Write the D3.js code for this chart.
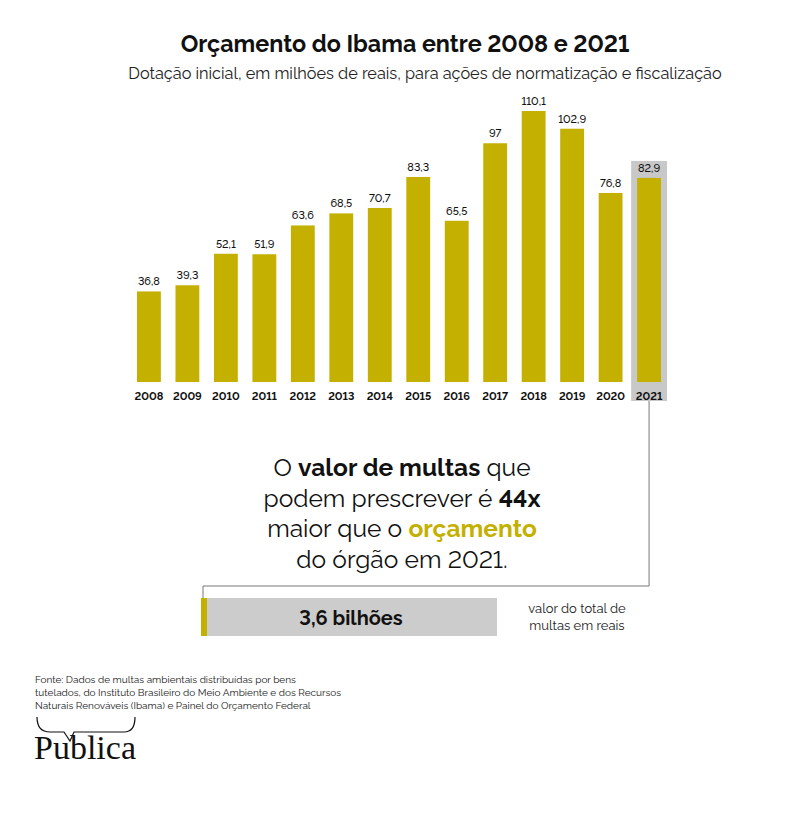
<!DOCTYPE html>
<meta charset="utf-8">
<script src="https://d3js.org/d3.v7.min.js"></script>
<style>
  body { margin: 0; background: #fff; }
  text { font-family: Raleway, "Open Sans", sans-serif; font-variant-numeric: lining-nums; font-feature-settings: "lnum" 1; }
</style>
<div id="chart"></div>
<script>
  // data
  var years = ["2008","2009","2010","2011","2012","2013","2014","2015","2016","2017","2018","2019","2020","2021"];
  var values = [36.8, 39.3, 52.1, 51.9, 63.6, 68.5, 70.7, 83.3, 65.5, 97, 110.1, 102.9, 76.8, 82.9];
  var labels = ["36,8","39,3","52,1","51,9","63,6","68,5","70,7","83,3","65,5","97","110,1","102,9","76,8","82,9"];

  var gold = "#c4b000";
  var svg = d3.select("#chart").append("svg").attr("width", 800).attr("height", 815);

  svg.append("text").attr("x", 405).attr("y", 52).attr("text-anchor", "middle")
    .attr("font-size", 23.3).attr("font-weight", "bold").attr("fill", "#111")
    .text("Orçamento do Ibama entre 2008 e 2021");
  svg.append("text").attr("x", 425).attr("y", 79).attr("text-anchor", "middle")
    .attr("font-size", 16.3).attr("fill", "#222")
    .text("Dotação inicial, em milhões de reais, para ações de normatização e fiscalização");

  var x = d3.scaleBand().domain(years).range([137, 661]).paddingInner(0.38).paddingOuter(0);
  var y = d3.scaleLinear().domain([0, 110.1]).range([382, 111]);

  // highlight for 2021
  var last = years[years.length - 1];
  svg.append("rect").attr("x", x(last) - 6).attr("y", y(82.9) - 17)
    .attr("width", x.bandwidth() + 12).attr("height", 401 - (y(82.9) - 17))
    .attr("fill", "#c8c8c8");

  svg.selectAll("rect.bar").data(values).enter().append("rect").attr("class", "bar")
    .attr("x", function(d, i) { return x(years[i]); })
    .attr("y", function(d) { return y(d); })
    .attr("width", x.bandwidth())
    .attr("height", function(d) { return y(0) - y(d); })
    .attr("fill", gold);

  svg.selectAll("text.val").data(values).enter().append("text").attr("class", "val")
    .attr("x", function(d, i) { return x(years[i]) + x.bandwidth() / 2; })
    .attr("y", function(d) { return y(d) - 6; })
    .attr("text-anchor", "middle").attr("font-size", 11).attr("font-weight", 500).attr("fill", "#111")
    .text(function(d, i) { return labels[i]; });

  var xAxis = svg.append("g").attr("transform", "translate(0,382)")
    .call(d3.axisBottom(x).tickSize(0).tickPadding(10));
  xAxis.select(".domain").remove();
  xAxis.selectAll("text").attr("font-size", 11).attr("font-weight", "bold").attr("fill", "#111")
    .style("font-family", "Raleway, 'Open Sans', sans-serif");

  // connector
  var cx = x(last) + x.bandwidth() / 2;
  svg.append("path").attr("d", "M" + cx + ",401 V586 H203 V598")
    .attr("fill", "none").attr("stroke", "#777").attr("stroke-width", 1);

  // central statement
  var lines = [
    [["O ", "normal", "#111"], ["valor de multas", "bold", "#111"], [" que", "normal", "#111"]],
    [["podem prescrever é ", "normal", "#111"], ["44x", "bold", "#111"]],
    [["maior que o ", "normal", "#111"], ["orçamento", "bold", gold]],
    [["do órgão em 2021.", "normal", "#111"]]
  ];
  lines.forEach(function(l, i) {
    var t = svg.append("text").attr("x", 402).attr("y", 476 + i * 30.5)
      .attr("text-anchor", "middle").attr("font-size", 24.5);
    l.forEach(function(s) {
      t.append("tspan").attr("font-weight", s[1]).attr("fill", s[2]).text(s[0]);
    });
  });

  // 3,6 bilhões bar
  svg.append("rect").attr("x", 207).attr("y", 598).attr("width", 290).attr("height", 38).attr("fill", "#cccccc");
  svg.append("rect").attr("x", 201).attr("y", 598).attr("width", 6).attr("height", 38).attr("fill", gold);
  svg.append("text").attr("x", 351).attr("y", 625).attr("text-anchor", "middle")
    .attr("font-size", 20).attr("font-weight", "bold").attr("fill", "#111").text("3,6 bilhões");
  svg.append("text").attr("x", 577).attr("y", 613).attr("text-anchor", "middle")
    .attr("font-size", 13).attr("fill", "#222").text("valor do total de");
  svg.append("text").attr("x", 577).attr("y", 630).attr("text-anchor", "middle")
    .attr("font-size", 13).attr("fill", "#222").text("multas em reais");

  // source
  ["Fonte:  Dados de multas ambientais distribuídas por bens",
   "tutelados, do Instituto Brasileiro do Meio Ambiente e dos Recursos",
   "Naturais Renováveis (Ibama) e Painel do Orçamento Federal"].forEach(function(s, i) {
    svg.append("text").attr("x", 35).attr("y", 683 + i * 13).attr("font-size", 10)
      .attr("fill", "#222").text(s);
  });

  // logo
  svg.append("path").attr("d", "M37,717 Q37,732 50,732 H64 L70,741 L74,732 H124 Q135,732 135,717")
    .attr("fill", "none").attr("stroke", "#111").attr("stroke-width", 1.2);
  svg.append("text").attr("x", 34).attr("y", 759).attr("font-size", 34)
    .style("font-family", "'Liberation Serif', 'DejaVu Serif', serif").attr("fill", "#111").text("Publica");
</script>
